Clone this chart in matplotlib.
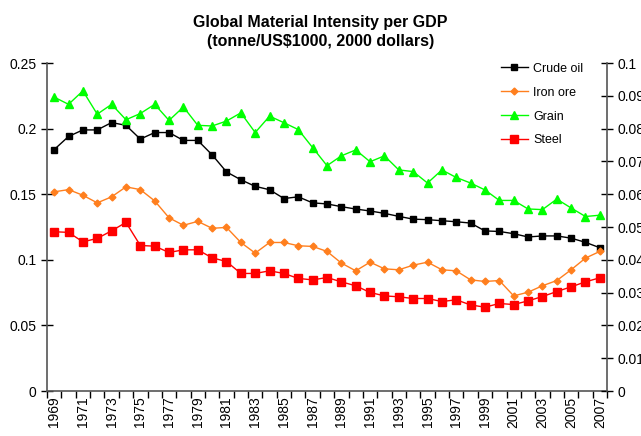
import matplotlib.pyplot as plt
from matplotlib.ticker import FixedLocator, NullFormatter

plt.rcParams['font.family'] = ['Liberation Sans', 'DejaVu Sans']

# data
years = list(range(1969, 2008))

crude_oil = [0.184, 0.194, 0.199, 0.199, 0.2046, 0.2025, 0.192, 0.197, 0.197, 0.191,
             0.191, 0.180, 0.167, 0.161, 0.156, 0.1534, 0.1467, 0.148, 0.1434, 0.1426,
             0.1405, 0.1387, 0.1372, 0.1354, 0.1331, 0.131, 0.1306, 0.1298, 0.129, 0.128,
             0.122, 0.1216, 0.1199, 0.1174, 0.1182, 0.1182, 0.1165, 0.1133, 0.1092]

iron_ore = [0.1518, 0.1535, 0.1492, 0.1434, 0.148, 0.1556, 0.1535, 0.1449, 0.132, 0.1263,
            0.1293, 0.124, 0.1247, 0.1132, 0.1051, 0.1132, 0.1132, 0.1107, 0.1102, 0.1064,
            0.0975, 0.0916, 0.0982, 0.0931, 0.0924, 0.0959, 0.0982, 0.0924, 0.0916, 0.0847,
            0.0835, 0.0842, 0.0725, 0.0753, 0.0802, 0.0842, 0.0924, 0.1013, 0.1064]

steel = [0.1214, 0.1209, 0.1137, 0.1163, 0.1221, 0.1285, 0.1109, 0.1104, 0.1056, 0.1076,
         0.1076, 0.1015, 0.0987, 0.0896, 0.0896, 0.0916, 0.0896, 0.0858, 0.0847, 0.0865,
         0.0832, 0.0802, 0.0751, 0.0725, 0.0718, 0.0705, 0.0705, 0.0682, 0.0695, 0.0656,
         0.0639, 0.0667, 0.0659, 0.0687, 0.072, 0.0758, 0.0794, 0.0832, 0.0863]

# grain is read on the right-hand axis
grain = [0.0896, 0.0874, 0.0915, 0.0844, 0.0874, 0.0827, 0.0846, 0.0874, 0.0825, 0.0866,
         0.081, 0.0808, 0.0823, 0.0848, 0.0788, 0.0838, 0.0818, 0.0797, 0.0742, 0.0687,
         0.0717, 0.0735, 0.0699, 0.0717, 0.0674, 0.0669, 0.0634, 0.0674, 0.0651, 0.0634,
         0.0613, 0.0581, 0.0581, 0.0555, 0.0553, 0.0585, 0.0558, 0.0532, 0.0536]

left_ticks = [0, 0.05, 0.1, 0.15, 0.2, 0.25]
left_labels = ['0', '0.05', '0.1', '0.15', '0.2', '0.25']
right_ticks = [0, 0.01, 0.02, 0.03, 0.04, 0.05, 0.06, 0.07, 0.08, 0.09, 0.1]
right_labels = ['0', '0.01', '0.02', '0.03', '0.04', '0.05', '0.06', '0.07', '0.08', '0.09', '0.1']

fig = plt.figure(figsize=(6.41, 4.36), dpi=100)
ax = fig.add_axes([0.0733, 0.1032, 0.8737, 0.7523])
ax2 = ax.twinx()

ax.plot(years, crude_oil, color='black', marker='s', markersize=4.5, lw=1, label='Crude oil')
ax.plot(years, iron_ore, color='#FF7F1E', marker='D', markersize=3.5, lw=1, label='Iron ore')
ax2.plot(years, grain, color='#00FF00', marker='^', markersize=6, lw=1, label='Grain')
ax.plot(years, steel, color='#FF0000', marker='s', markersize=5.5, lw=1, label='Steel')

ax.set_xlim(1968.5, 2007.5)
ax.set_ylim(0, 0.25)
ax2.set_ylim(0, 0.1)

ax.set_yticks(left_ticks)
ax.set_yticklabels(left_labels)
ax2.set_yticks(right_ticks)
ax2.set_yticklabels(right_labels)

# year labels at centres, tick marks at the boundaries
ax.xaxis.set_major_locator(FixedLocator(years[::2]))
ax.set_xticklabels([str(y) for y in years[::2]], rotation=90)
ax.tick_params(axis='x', which='major', length=0, pad=4)
ax.xaxis.set_minor_locator(FixedLocator([y - 0.5 for y in years] + [2007.5]))
ax.xaxis.set_minor_formatter(NullFormatter())
ax.tick_params(axis='x', which='minor', length=5, direction='out', width=1)

ax.tick_params(axis='y', direction='inout', length=8, width=1, labelsize=10)
ax2.tick_params(axis='y', direction='inout', length=8, width=1, labelsize=10)
ax.tick_params(axis='x', labelsize=10)

for a in (ax, ax2):
    a.spines['top'].set_visible(False)
    for s in ('left', 'right', 'bottom'):
        a.spines[s].set_color('#555555')
        a.spines[s].set_linewidth(1.2)
ax.spines['right'].set_visible(False)
ax2.spines['left'].set_visible(False)
ax2.spines['bottom'].set_visible(False)

h1, l1 = ax.get_legend_handles_labels()
h2, l2 = ax2.get_legend_handles_labels()
handles = [h1[0], h1[1], h2[0], h1[2]]
labels = [l1[0], l1[1], l2[0], l1[2]]
ax2.legend(handles, labels, loc='upper left', bbox_to_anchor=(0.79, 1.035), frameon=False,
           fontsize=9, handlelength=2.2, labelspacing=0.95, handletextpad=0.4)

fig.text(0.5, 0.965, 'Global Material Intensity per GDP\n(tonne/US$1000, 2000 dollars)',
         ha='center', va='top', fontsize=11.5, fontweight='bold', linespacing=1.35)

fig.savefig('out.png', dpi=100)
